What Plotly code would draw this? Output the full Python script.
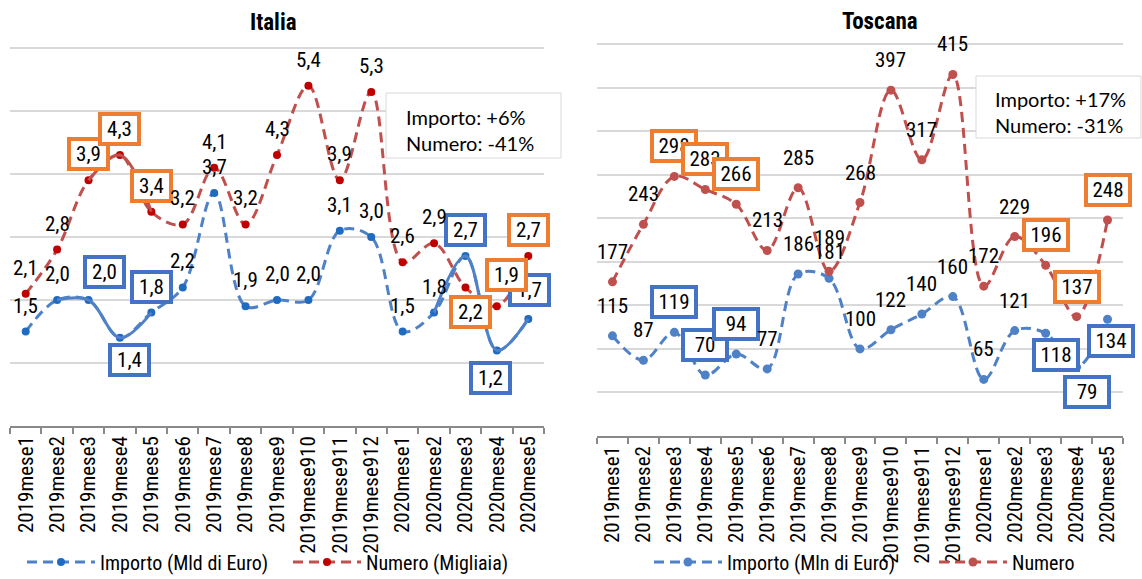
import plotly.graph_objects as go

# ---------------- data ----------------
categories = ["2019mese1", "2019mese2", "2019mese3", "2019mese4", "2019mese5", "2019mese6",
              "2019mese7", "2019mese8", "2019mese9", "2019mese910", "2019mese911", "2019mese912",
              "2020mese1", "2020mese2", "2020mese3", "2020mese4", "2020mese5"]

ita_importo = [1.5, 2.0, 2.0, 1.4, 1.8, 2.2, 3.7, 1.9, 2.0, 2.0, 3.1, 3.0, 1.5, 1.8, 2.7, 1.2, 1.7]
ita_numero = [2.1, 2.8, 3.9, 4.3, 3.4, 3.2, 4.1, 3.2, 4.3, 5.4, 3.9, 5.3, 2.6, 2.9, 2.2, 1.9, 2.7]
tos_importo = [115, 87, 119, 70, 94, 77, 186, 181, 100, 122, 140, 160, 65, 121, 118, 79, 134]
tos_numero = [177, 243, 298, 283, 266, 213, 285, 189, 268, 397, 317, 415, 172, 229, 196, 137, 248]

boxed_idx = [2, 3, 4, 14, 15, 16]

ita_title = "Italia"
tos_title = "Toscana"
ita_legend = ["Importo (Mld di Euro)", "Numero (Migliaia)"]
tos_legend = ["Importo (Mln di Euro)", "Numero"]
ita_note = "Importo: +6%<br>Numero: -41%"
tos_note = "Importo: +17%<br>Numero: -31%"

# ---------------- styles ----------------
W, H = 1142, 579
NARROW = "Liberation Sans Narrow, Arial Narrow, Roboto Condensed, DejaVu Sans Condensed, sans-serif"
BLUE_LINE = "#4F81C7"
BLUE_MK_I = "#1F6BC2"
RED_LINE = "#C0504D"
RED_MK_I = "#C00000"
BOX_BLUE = "#4472C4"
BOX_ORANGE = "#ED7D31"
GRID = "#D9D9D9"
AXIS = "#898989"
DASH = "10px,6px"

# label shift overrides (px): index -> (dx, dy)
ita_imp_shift = {2: (16, 28), 3: (10, -22), 15: (-6, -28), 16: (1, 29)}
ita_num_shift = {14: (5, -25), 15: (10, 31)}
tos_imp_shift = {14: (10, -22), 15: (10, -25), 16: (3, -22), 7: (0, 26)}
tos_num_shift = {7: (0, 33)}


def px(xp):
    return xp / W


def py(yp):
    return 1 - yp / H


fig = go.Figure()


def add_series(vals, xa, ya, color, mk_color, name, legend, mk_size, solid_runs):
    fig.add_trace(go.Scatter(
        x=categories, y=vals, xaxis=xa, yaxis=ya, mode="lines+markers", name=name,
        legend=legend, line=dict(color=color, width=3, dash=DASH, shape="spline", smoothing=1),
        marker=dict(color=mk_color, size=mk_size), hoverinfo="skip"))
    for a, b in solid_runs:
        fig.add_trace(go.Scatter(
            x=categories[a:b + 1], y=vals[a:b + 1], xaxis=xa, yaxis=ya, mode="lines",
            showlegend=False, line=dict(color=color, width=3, shape="spline", smoothing=1),
            hoverinfo="skip"))


add_series(ita_importo, "x", "y", BLUE_LINE, BLUE_MK_I, ita_legend[0], "legend", 8, [(1, 4), (13, 16)])
add_series(ita_numero, "x", "y", RED_LINE, RED_MK_I, ita_legend[1], "legend2", 8, [(2, 4)])
add_series(tos_importo, "x2", "y2", BLUE_LINE, BLUE_LINE, tos_legend[0], "legend3", 9, [])
add_series(tos_numero, "x2", "y2", RED_LINE, RED_LINE, tos_legend[1], "legend4", 9, [])

annotations = []


def add_labels(vals, xa, ya, fmt, box_color, default_dy, shifts, box_w):
    for i, v in enumerate(vals):
        dx, dy = shifts.get(i, (0, default_dy))
        a = dict(x=categories[i], y=v, xref=xa, yref=ya, text=fmt(v), showarrow=False,
                 xshift=dx, yshift=dy, font=dict(family=NARROW, size=21, color="#000000"))
        if i in boxed_idx:
            a.update(bgcolor="#FFFFFF", bordercolor=box_color, borderwidth=4, borderpad=1, width=box_w)
        annotations.append(a)


ita_fmt = lambda v: f"{v:.1f}".replace(".", ",")
tos_fmt = lambda v: f"{v:d}"
add_labels(ita_importo, "x", "y", ita_fmt, BOX_BLUE, 26, ita_imp_shift, 33)
add_labels(ita_numero, "x", "y", ita_fmt, BOX_ORANGE, 26, ita_num_shift, 33)
add_labels(tos_importo, "x2", "y2", tos_fmt, BOX_BLUE, 30, tos_imp_shift, 38)
add_labels(tos_numero, "x2", "y2", tos_fmt, BOX_ORANGE, 30, tos_num_shift, 38)

# titles
for tx, ty, tt in [(273, 23, ita_title), (880, 21, tos_title)]:
    annotations.append(dict(x=px(tx), y=py(ty), xref="paper", yref="paper", text=f"<b>{tt}</b>",
                            xanchor="center", yanchor="middle", showarrow=False,
                            font=dict(family=NARROW, size=23, color="#000")))
# note boxes text
NOTEFONT = "Lato, Open Sans, sans-serif"
for tx, ty, tt in [(404, 130, ita_note), (993, 112, tos_note)]:
    annotations.append(dict(x=px(tx), y=py(ty), xref="paper", yref="paper", text=tt, align="left",
                            xanchor="left", yanchor="middle", showarrow=False,
                            font=dict(family=NOTEFONT, size=20, color="#000")))

shapes = [
    dict(type="rect", xref="paper", yref="paper", x0=px(386), x1=px(561), y0=py(158), y1=py(93),
         line=dict(color=GRID, width=1), fillcolor="#FFFFFF", layer="above"),
    dict(type="rect", xref="paper", yref="paper", x0=px(976), x1=px(1141), y0=py(138), y1=py(76),
         line=dict(color=GRID, width=1), fillcolor="#FFFFFF", layer="above"),
]

xcommon = dict(type="category", range=[-0.5, 16.5], tickson="boundaries", ticks="outside", ticklen=6,
               tickcolor=AXIS, tickwidth=1.5, showline=True, linecolor=AXIS, linewidth=1.5,
               showgrid=False, tickangle=-90, tickfont=dict(family=NARROW, size=21, color="#000"),
               fixedrange=True)
ycommon = dict(showticklabels=False, showgrid=True, gridcolor=GRID, gridwidth=1.5, zeroline=False,
               showline=False, ticks="", fixedrange=True)


def legend_at(sx):
    return dict(orientation="h", x=px(sx - 3), y=py(562), xanchor="left", yanchor="middle",
                font=dict(family=NARROW, size=20, color="#000"), bgcolor="rgba(0,0,0,0)",
                itemwidth=68, tracegroupgap=0)


fig.update_layout(
    width=W, height=H, autosize=False, margin=dict(l=0, r=0, t=0, b=0, autoexpand=False),
    paper_bgcolor="#FFFFFF", plot_bgcolor="#FFFFFF",
    xaxis=dict(xcommon, domain=[px(10), px(544)], anchor="y"),
    yaxis=dict(ycommon, domain=[py(426), py(46.1)], range=[0, 6.03], dtick=1, anchor="x"),
    xaxis2=dict(xcommon, domain=[px(597), px(1123)], anchor="y2"),
    yaxis2=dict(ycommon, domain=[py(436), py(42)], range=[0, 452.3], dtick=50, anchor="x2"),
    annotations=annotations, shapes=shapes,
    legend=legend_at(25), legend2=legend_at(291), legend3=legend_at(652), legend4=legend_at(937),
    showlegend=True,
)

fig.write_html("out.html", config={"displayModeBar": False},
               post_script="document.body.style.margin='0px';")
